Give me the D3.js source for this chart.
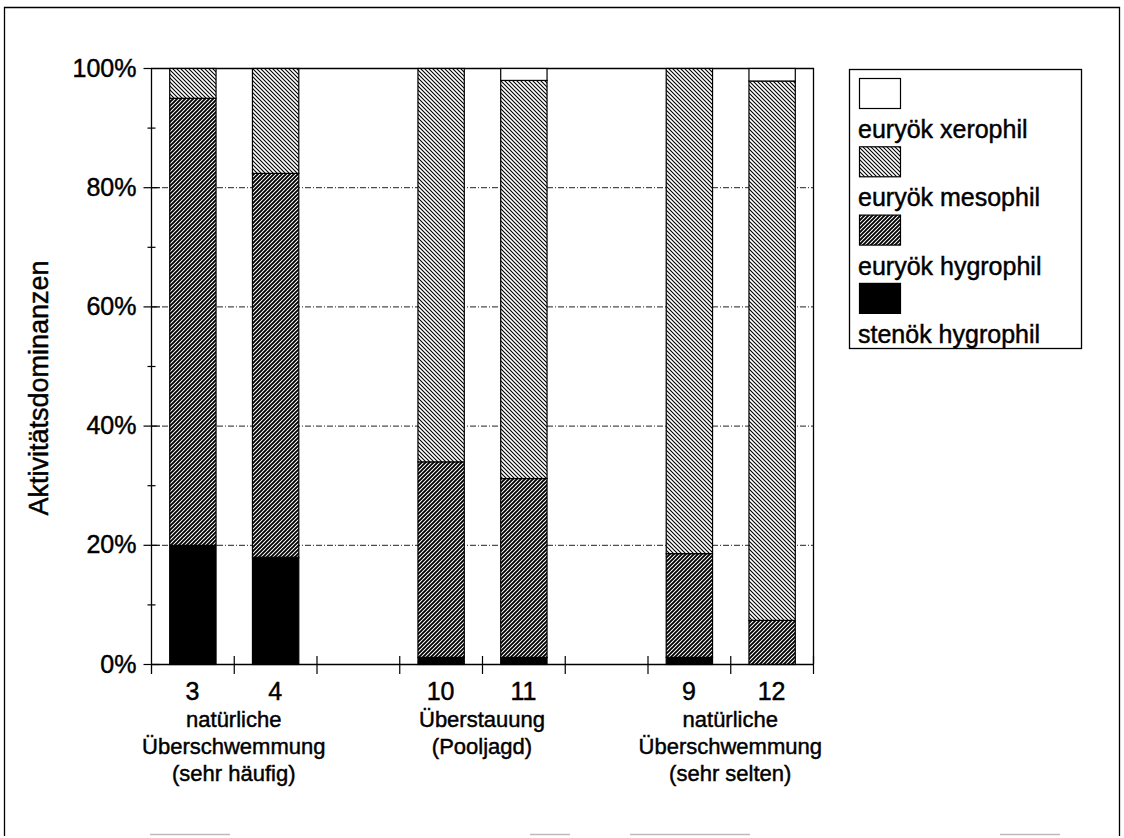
<!DOCTYPE html>
<html>
<head>
<meta charset="utf-8">
<script src="https://cdn.jsdelivr.net/npm/d3@7"></script>
<style>
  html, body { margin: 0; padding: 0; background: #fff; }
  svg { display: block; font-family: "Liberation Sans", Arial, sans-serif; }
  svg text { stroke: #000; stroke-width: 0.45px; fill: #000; }
</style>
</head>
<body>
<svg id="chart" width="1124" height="838"></svg>
<script>
// ---- data ----
const slots = ["3", "4", "gapA", "10", "11", "gapB", "9", "12"];
const slotLabels = ["3", "4", "", "10", "11", "", "9", "12"];
const bars = ["3", "4", "10", "11", "9", "12"];
const stenokHygrophil = [20, 18, 1.2, 1.2, 1.2, 0];
const euryokHygrophil = [75, 64.4, 32.8, 30, 17.4, 7.4];
const euryokMesophil = [5, 17.6, 66, 66.8, 81.4, 90.5];
const euryokXerophil = [0, 0, 0, 2.0, 0, 2.1];
const seriesNames = ["stenök hygrophil", "euryök hygrophil", "euryök mesophil", "euryök xerophil"];
const legendOrder = ["euryök xerophil", "euryök mesophil", "euryök hygrophil", "stenök hygrophil"];
const yTicks = [0, 20, 40, 60, 80, 100];
const yMinorTicks = [10, 30, 50, 70, 90];
const groupLabels = [
  { lines: ["natürliche", "Überschwemmung", "(sehr häufig)"], between: ["3", "4"] },
  { lines: ["Überstauung", "(Pooljagd)"], between: ["10", "11"] },
  { lines: ["natürliche", "Überschwemmung", "(sehr selten)"], between: ["9", "12"] }
];
const yTitle = "Aktivitätsdominanzen";

// ---- layout ----
const svg = d3.select("#chart");
const L = 151, R = 813, T = 68, B = 664;

const defs = svg.append("defs");
function hatch(id, dir, lw) {
  const p = defs.append("pattern").attr("id", id).attr("patternUnits", "userSpaceOnUse")
    .attr("width", 4).attr("height", 4);
  p.append("rect").attr("width", 4).attr("height", 4).attr("fill", "#fff");
  const d = dir === "back" ? "M-1,-1 L5,5 M-1,3 L1,5 M3,-1 L5,1" : "M-1,5 L5,-1 M-1,1 L1,-1 M3,5 L5,3";
  p.append("path").attr("d", d).attr("stroke", "#000").attr("stroke-width", lw);
}
hatch("hLight", "back", 1.1);
hatch("hDark", "fwd", 1.9);
const fills = {
  "stenök hygrophil": "#000",
  "euryök hygrophil": "url(#hDark)",
  "euryök mesophil": "url(#hLight)",
  "euryök xerophil": "#fff"
};

// outer frame
svg.append("path").attr("d", "M4.5,836 L4.5,7.5 L1119.5,7.5 L1119.5,836")
  .attr("fill", "none").attr("stroke", "#000").attr("stroke-width", 1.3);
svg.append("line").attr("x1", 150).attr("x2", 1119.5).attr("y1", 834.5).attr("y2", 834.5)
  .attr("stroke", "#bbb").attr("stroke-width", 1.5).attr("stroke-dasharray", "80,300,40,60,120,250,60,200");

const x = d3.scaleBand().domain(slots).range([L, R]).paddingInner(0.44).paddingOuter(0.22);
const step = x.step();
const y = d3.scaleLinear().domain([0, 100]).range([B, T]);

// gridlines
svg.append("g").selectAll("line").data(yTicks.filter(v => v > 0 && v < 100)).join("line")
  .attr("x1", L).attr("x2", R).attr("y1", d => y(d) + 0.5).attr("y2", d => y(d) + 0.5)
  .attr("stroke", "#222").attr("stroke-width", 1).attr("stroke-dasharray", "6,2,1,2");

// plot box top & right
svg.append("path").attr("d", `M${L},${T + 0.5} L${R + 0.5},${T + 0.5} L${R + 0.5},${B}`)
  .attr("fill", "none").attr("stroke", "#000").attr("stroke-width", 1.3);

// stacked bars
const rows = bars.map((b, i) => ({
  cat: b,
  "stenök hygrophil": stenokHygrophil[i],
  "euryök hygrophil": euryokHygrophil[i],
  "euryök mesophil": euryokMesophil[i],
  "euryök xerophil": euryokXerophil[i]
}));
const stacked = d3.stack().keys(seriesNames)(rows);
const gBars = svg.append("g");
stacked.forEach(s => {
  gBars.selectAll(null).data(s.filter(d => d[1] - d[0] > 0)).join("rect")
    .attr("x", d => x(d.data.cat) + 0.5)
    .attr("width", x.bandwidth())
    .attr("y", d => y(d[1]) + 0.5)
    .attr("height", d => y(d[0]) - y(d[1]))
    .attr("fill", fills[s.key])
    .attr("stroke", "#000").attr("stroke-width", 1.2);
});

// y axis
const fontTick = "25px";
const yAxisL = d3.axisLeft(y).tickValues(yTicks).tickSize(8).tickPadding(7).tickFormat(d => d + "%");
const gy = svg.append("g").attr("transform", `translate(${L + 0.5},0)`).call(yAxisL);
gy.select(".domain").remove();
gy.selectAll("text").attr("font-size", fontTick)
  .attr("font-family", "Liberation Sans, Arial, sans-serif");
gy.selectAll("line").attr("stroke", "#000").attr("stroke-width", 1.2);
const gyR = svg.append("g").attr("transform", `translate(${L + 0.5},0)`)
  .call(d3.axisRight(y).tickValues(yTicks.filter(v => v < 100)).tickSize(8).tickFormat(""));
gyR.select(".domain").remove();
gyR.selectAll("line").attr("stroke", "#000").attr("stroke-width", 1.2);
const gyM = svg.append("g").attr("transform", `translate(${L + 0.5},0)`)
  .call(d3.axisLeft(y).tickValues(yMinorTicks).tickSize(4).tickFormat(""));
gyM.select(".domain").remove();
gyM.selectAll("line").attr("stroke", "#000").attr("stroke-width", 1.2);
const gyM2 = svg.append("g").attr("transform", `translate(${L + 0.5},0)`)
  .call(d3.axisRight(y).tickValues(yMinorTicks).tickSize(4).tickFormat(""));
gyM2.select(".domain").remove();
gyM2.selectAll("line").attr("stroke", "#000").attr("stroke-width", 1.2);
svg.append("line").attr("x1", L + 0.5).attr("x2", L + 0.5).attr("y1", T).attr("y2", B + 10)
  .attr("stroke", "#000").attr("stroke-width", 1.3);

// x axis
svg.append("line").attr("x1", L).attr("x2", R + 1).attr("y1", B + 0.5).attr("y2", B + 0.5)
  .attr("stroke", "#000").attr("stroke-width", 1.3);
const boundaries = slots.map(s => x(s) - step * x.paddingInner() / 2).slice(1).concat([R]);
svg.append("g").selectAll("line").data(boundaries).join("line")
  .attr("x1", d => d + 0.5).attr("x2", d => d + 0.5).attr("y1", B - 8).attr("y2", B + 10)
  .attr("stroke", "#000").attr("stroke-width", 1.2);
svg.append("g").selectAll("text").data(slots).join("text")
  .attr("x", d => x(d) + x.bandwidth() / 2)
  .attr("y", B + 36)
  .attr("text-anchor", "middle").attr("font-size", "25px")
  .text((d, i) => slotLabels[i]);

// group labels
const gGroups = svg.append("g");
groupLabels.forEach(g => {
  const cx = (x(g.between[0]) + x(g.between[1]) + x.bandwidth()) / 2;
  g.lines.forEach((t, j) => {
    gGroups.append("text").attr("x", cx).attr("y", B + 63 + j * 27)
      .attr("text-anchor", "middle").attr("font-size", "22px").text(t);
  });
});

// y title
svg.append("text")
  .attr("transform", `translate(48,${(T + B) / 2 + 22}) rotate(-90)`)
  .attr("text-anchor", "middle").attr("font-size", "27px").text(yTitle);

// legend
const lg = svg.append("g");
lg.append("rect").attr("x", 849.5).attr("y", 69.5).attr("width", 232).attr("height", 279)
  .attr("fill", "#fff").attr("stroke", "#000").attr("stroke-width", 1.3);
legendOrder.forEach((name, i) => {
  const y0 = 78 + i * 68.3;
  lg.append("rect").attr("x", 859.5).attr("y", y0 + 0.5).attr("width", 41).attr("height", 30)
    .attr("fill", fills[name]).attr("stroke", "#000").attr("stroke-width", 1.2);
  lg.append("text").attr("x", 858).attr("y", y0 + 60).attr("font-size", "25px").text(name);
});
</script>
</body>
</html>
